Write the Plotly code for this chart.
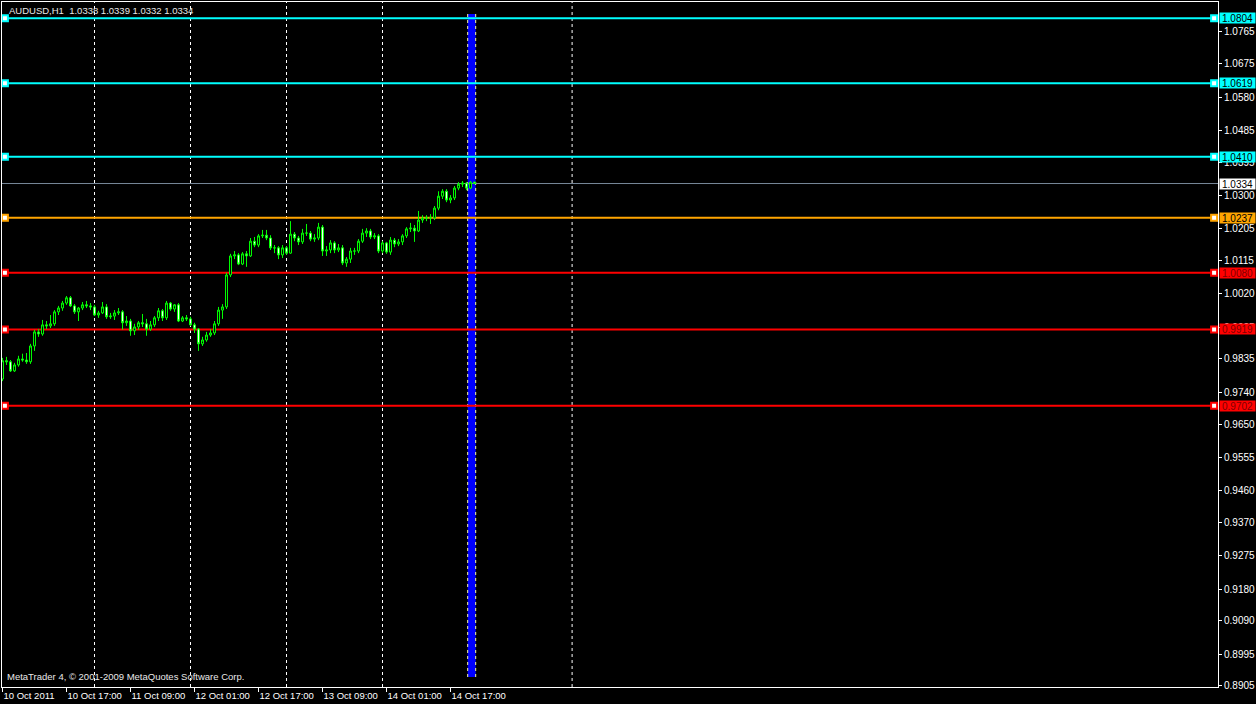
import plotly.graph_objects as go

# AUDUSD H1, 10 Oct 2011 01:00 .. 14 Oct 2011 23:00 (bar index on x)
open_ = [
    0.9778, 0.9830, 0.9827, 0.9801, 0.9818, 0.9835, 0.9832, 0.9827, 0.9872, 0.9912,
    0.9906, 0.9932, 0.9929, 0.9935, 0.9969, 0.9980, 0.9994, 1.0009, 0.9986, 0.9969,
    0.9980, 0.9989, 0.9986, 0.9983, 0.9960, 0.9966, 0.9983, 0.9955, 0.9957, 0.9966,
    0.9969, 0.9938, 0.9943, 0.9915, 0.9926, 0.9938, 0.9935, 0.9920, 0.9932, 0.9952,
    0.9972, 0.9952, 0.9994, 0.9977, 0.9989, 0.9943, 0.9952, 0.9949, 0.9932, 0.9920,
    0.9878, 0.9889, 0.9903, 0.9909, 0.9935, 0.9974, 0.9983, 1.0074, 1.0128, 1.0131,
    1.0105, 1.0134, 1.0128, 1.0170, 1.0159, 1.0185, 1.0187, 1.0179, 1.0151, 1.0151,
    1.0131, 1.0151, 1.0136, 1.0190, 1.0179, 1.0168, 1.0193, 1.0193, 1.0176, 1.0179,
    1.0210, 1.0142, 1.0145, 1.0165, 1.0145, 1.0151, 1.0108, 1.0119, 1.0142, 1.0142,
    1.0170, 1.0193, 1.0199, 1.0182, 1.0185, 1.0142, 1.0165, 1.0139, 1.0173, 1.0162,
    1.0168, 1.0185, 1.0205, 1.0207, 1.0199, 1.0230, 1.0236, 1.0236, 1.0236, 1.0264,
    1.0298, 1.0312, 1.0287, 1.0293, 1.0321, 1.0332, 1.0335, 1.0321, 1.0338,
]
high = [
    0.9838, 0.9841, 0.9832, 0.9824, 0.9844, 0.9850, 0.9852, 0.9878, 0.9918, 0.9920,
    0.9946, 0.9943, 0.9960, 0.9974, 0.9986, 1.0000, 1.0014, 1.0014, 0.9991, 0.9983,
    0.9997, 1.0000, 0.9994, 0.9989, 0.9972, 0.9997, 0.9991, 0.9966, 0.9974, 0.9980,
    0.9974, 0.9957, 0.9949, 0.9935, 0.9943, 0.9963, 0.9949, 0.9943, 0.9957, 0.9980,
    0.9977, 1.0000, 0.9997, 0.9991, 0.9994, 0.9957, 0.9960, 0.9955, 0.9938, 0.9923,
    0.9898, 0.9912, 0.9920, 0.9943, 0.9983, 0.9991, 1.0080, 1.0134, 1.0142, 1.0136,
    1.0139, 1.0142, 1.0179, 1.0182, 1.0190, 1.0202, 1.0202, 1.0187, 1.0159, 1.0156,
    1.0159, 1.0156, 1.0227, 1.0196, 1.0185, 1.0205, 1.0219, 1.0199, 1.0190, 1.0222,
    1.0216, 1.0156, 1.0173, 1.0170, 1.0162, 1.0159, 1.0125, 1.0151, 1.0151, 1.0176,
    1.0205, 1.0207, 1.0205, 1.0193, 1.0190, 1.0170, 1.0168, 1.0182, 1.0179, 1.0176,
    1.0190, 1.0210, 1.0222, 1.0216, 1.0256, 1.0244, 1.0244, 1.0247, 1.0270, 1.0312,
    1.0318, 1.0318, 1.0301, 1.0327, 1.0338, 1.0341, 1.0338, 1.0341, 1.0339,
]
low = [
    0.9772, 0.9818, 0.9798, 0.9798, 0.9813, 0.9827, 0.9821, 0.9821, 0.9858, 0.9898,
    0.9901, 0.9920, 0.9923, 0.9929, 0.9960, 0.9972, 0.9989, 0.9983, 0.9963, 0.9943,
    0.9974, 0.9980, 0.9974, 0.9957, 0.9952, 0.9963, 0.9949, 0.9949, 0.9946, 0.9960,
    0.9918, 0.9929, 0.9901, 0.9903, 0.9918, 0.9926, 0.9901, 0.9915, 0.9926, 0.9943,
    0.9943, 0.9946, 0.9972, 0.9969, 0.9940, 0.9940, 0.9943, 0.9929, 0.9909, 0.9858,
    0.9872, 0.9884, 0.9898, 0.9903, 0.9929, 0.9949, 0.9977, 1.0068, 1.0119, 1.0102,
    1.0102, 1.0097, 1.0125, 1.0153, 1.0153, 1.0179, 1.0173, 1.0145, 1.0136, 1.0119,
    1.0122, 1.0131, 1.0134, 1.0170, 1.0159, 1.0162, 1.0185, 1.0170, 1.0168, 1.0173,
    1.0128, 1.0128, 1.0136, 1.0136, 1.0139, 1.0102, 1.0097, 1.0108, 1.0131, 1.0136,
    1.0165, 1.0182, 1.0176, 1.0176, 1.0136, 1.0136, 1.0134, 1.0131, 1.0153, 1.0156,
    1.0159, 1.0179, 1.0196, 1.0168, 1.0196, 1.0222, 1.0227, 1.0219, 1.0230, 1.0258,
    1.0290, 1.0281, 1.0278, 1.0287, 1.0315, 1.0324, 1.0315, 1.0318, 1.0332,
]
close = [
    0.9830, 0.9827, 0.9801, 0.9818, 0.9835, 0.9832, 0.9827, 0.9872, 0.9912, 0.9906,
    0.9932, 0.9929, 0.9935, 0.9969, 0.9980, 0.9994, 1.0009, 0.9986, 0.9969, 0.9980,
    0.9989, 0.9986, 0.9983, 0.9960, 0.9966, 0.9983, 0.9955, 0.9957, 0.9966, 0.9969,
    0.9938, 0.9943, 0.9915, 0.9926, 0.9938, 0.9935, 0.9920, 0.9932, 0.9952, 0.9972,
    0.9952, 0.9994, 0.9977, 0.9989, 0.9943, 0.9952, 0.9949, 0.9932, 0.9920, 0.9878,
    0.9889, 0.9903, 0.9909, 0.9935, 0.9974, 0.9983, 1.0074, 1.0128, 1.0131, 1.0105,
    1.0134, 1.0128, 1.0170, 1.0159, 1.0185, 1.0187, 1.0179, 1.0151, 1.0151, 1.0131,
    1.0151, 1.0136, 1.0190, 1.0179, 1.0168, 1.0193, 1.0193, 1.0176, 1.0179, 1.0210,
    1.0142, 1.0145, 1.0165, 1.0145, 1.0151, 1.0108, 1.0119, 1.0142, 1.0142, 1.0170,
    1.0193, 1.0199, 1.0182, 1.0185, 1.0142, 1.0165, 1.0139, 1.0173, 1.0162, 1.0168,
    1.0185, 1.0205, 1.0207, 1.0199, 1.0230, 1.0236, 1.0236, 1.0236, 1.0264, 1.0298,
    1.0312, 1.0287, 1.0293, 1.0321, 1.0332, 1.0335, 1.0321, 1.0338, 1.0334,
]
bars = list(range(len(close)))

# time axis labels (bar index -> label)
tick_bars = [0, 16, 32, 48, 64, 80, 96, 112]
tick_text = ["10 Oct 2011", "10 Oct 17:00", "11 Oct 09:00", "12 Oct 01:00",
             "12 Oct 17:00", "13 Oct 09:00", "14 Oct 01:00", "14 Oct 17:00"]
day_grid = [23, 47, 71, 95, 142.4]

# price scale labels
price_ticks = [1.0765, 1.0675, 1.0580, 1.0485, 1.0395, 1.0300, 1.0205, 1.0115,
               1.0020, 0.9925, 0.9835, 0.9740, 0.9650, 0.9555, 0.9460, 0.9370,
               0.9275, 0.9180, 0.9090, 0.8995, 0.8905]

# drawn horizontal levels
levels = [1.0804, 1.0619, 1.0410, 1.0237, 1.0080, 0.9919, 0.9702]
level_colors = ["#00FFFF", "#00FFFF", "#00FFFF", "#FFA500", "#FF0000", "#FF0000", "#FF0000"]
level_text = ["#000000", "#000000", "#000000", "#000000", "#800000", "#800000", "#800000"]

bid = 1.0334
title = "AUDUSD,H1  1.0338 1.0339 1.0332 1.0334"
band = (116.3, 118.3)

FONT = "Liberation Sans, Arial, sans-serif"
X_RANGE = [-0.125, 303.875]
Y_RANGE = [0.89020, 1.08503]

fig = go.Figure()

fig.add_trace(go.Candlestick(
    x=bars, open=open_, high=high, low=low, close=close,
    increasing=dict(line=dict(color="#00FF00", width=1), fillcolor="#000000"),
    decreasing=dict(line=dict(color="#00FF00", width=1), fillcolor="#FFFFFF"),
    whiskerwidth=0, showlegend=False, hoverinfo="skip",
))

shapes = []
# vertical dashed grid
for g in day_grid:
    shapes.append(dict(type="line", xref="x", yref="paper", x0=g, x1=g, y0=0, y1=1,
                       line=dict(color="#FFFFFF", width=1, dash="3px,3px"), layer="below"))
# blue vertical band with dashed edges
shapes.append(dict(type="rect", xref="x", yref="paper", x0=band[0], x1=band[1],
                   y0=0.0146, y1=0.9825, fillcolor="#0000FF", line=dict(width=0), layer="below"))
for bx in band:
    shapes.append(dict(type="line", xref="x", yref="paper", x0=bx, x1=bx, y0=0.0146, y1=0.9825,
                       line=dict(color="#FFFF99", width=1, dash="3px,3px"), layer="below"))
# bid line
shapes.append(dict(type="line", xref="paper", yref="y", x0=0, x1=1, y0=bid, y1=bid,
                   line=dict(color="#778899", width=1), layer="below"))
# level lines
for lv, col in zip(levels, level_colors):
    shapes.append(dict(type="line", xref="paper", yref="y", x0=0, x1=1, y0=lv, y1=lv,
                       line=dict(color=col, width=2), layer="below"))

# selection handles at both ends of each level line
fig.add_trace(go.Scatter(
    x=[0.6] * len(levels) + [302.9] * len(levels),
    y=levels + levels,
    mode="markers",
    marker=dict(symbol="square", size=6, color="#FFFFFF",
                line=dict(width=2, color=level_colors + level_colors)),
    showlegend=False, hoverinfo="skip", cliponaxis=False,
))

annotations = []
for lv, col, tc in zip(levels, level_colors, level_text):
    annotations.append(dict(xref="paper", yref="y", x=1, y=lv, xanchor="left", xshift=1,
                            text=f"{lv:.4f}", showarrow=False, bgcolor=col,
                            width=35, height=10, borderpad=0, align="center",
                            font=dict(family=FONT, size=10, color=tc)))
annotations.append(dict(xref="paper", yref="y", x=1, y=bid, xanchor="left", xshift=1,
                        text=f"{bid:.4f}", showarrow=False, bgcolor="#FFFFFF",
                        width=35, height=10, borderpad=0, align="center",
                        font=dict(family=FONT, size=10, color="#000000")))
annotations.append(dict(xref="paper", yref="paper", x=0, y=1, xanchor="left", yanchor="top",
                        xshift=5, yshift=-1, text=title, showarrow=False,
                        font=dict(family=FONT, size=9.5, color="#E8E8E8")))
annotations.append(dict(xref="paper", yref="paper", x=0, y=0, xanchor="left", yanchor="bottom",
                        xshift=3, yshift=3, showarrow=False,
                        text="MetaTrader 4, \u00a9 2001-2009 MetaQuotes Software Corp.",
                        font=dict(family=FONT, size=9.5, color="#E8E8E8")))

fig.update_layout(
    width=1256, height=704,
    margin=dict(l=2, r=38, t=2, b=17, autoexpand=False),
    paper_bgcolor="#000000", plot_bgcolor="#000000",
    shapes=shapes, annotations=annotations,
    showlegend=False,
    xaxis=dict(
        range=X_RANGE, rangeslider=dict(visible=False), automargin=False,
        tickmode="array", tickvals=tick_bars, ticktext=tick_text, tickangle=0,
        ticks="outside", ticklen=4, tickcolor="#FFFFFF",
        ticklabelposition="outside right",
        tickfont=dict(family=FONT, size=9.5, color="#FFFFFF"),
        showgrid=False, zeroline=False,
        showline=True, linecolor="#FFFFFF", linewidth=1, mirror=True,
    ),
    yaxis=dict(
        side="right", range=Y_RANGE, automargin=False,
        tickmode="array", tickvals=price_ticks, ticktext=[f"{t:.4f}" for t in price_ticks],
        ticks="outside", ticklen=3, tickcolor="#FFFFFF",
        tickfont=dict(family=FONT, size=10, color="#FFFFFF"),
        showgrid=False, zeroline=False,
        showline=True, linecolor="#FFFFFF", linewidth=1, mirror=True,
    ),
)

# the page's default 8px body margin would push the 1256x704 figure off-screen
fig.write_html("out.html", config={"displayModeBar": False},
               post_script="document.body.style.margin='0';")
